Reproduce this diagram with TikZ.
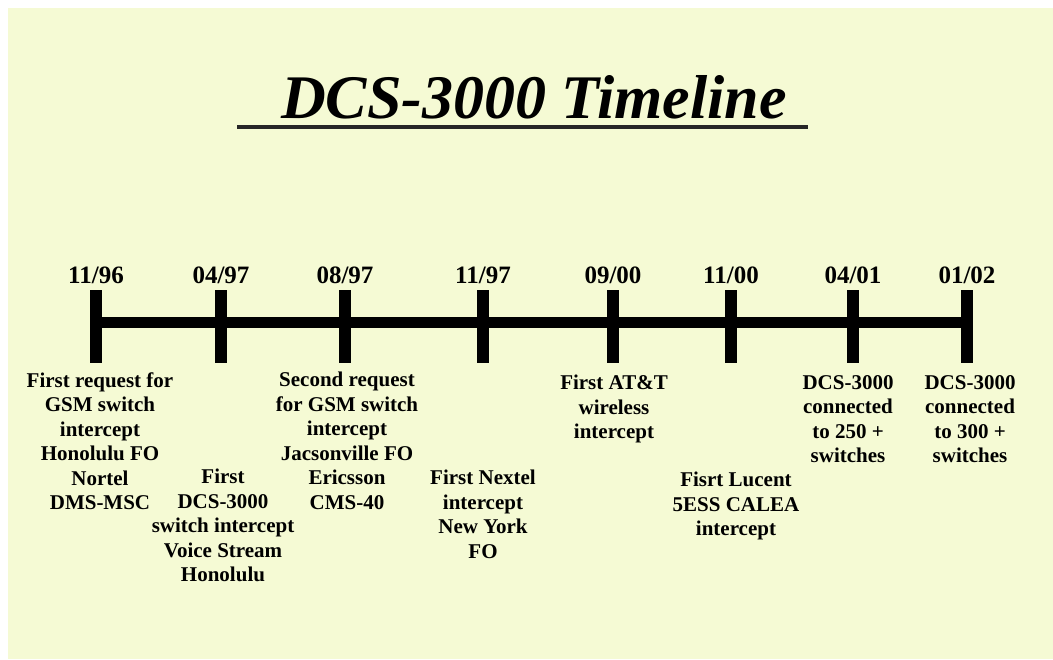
\documentclass[tikz,border=0pt]{standalone}
\usepackage{fontspec}
\setmainfont{Liberation Serif}
\definecolor{paper}{HTML}{F5FAD4}

\begin{document}
\begin{tikzpicture}[x=0.5pt, y=-0.5pt,
  every node/.style={inner sep=0pt},
  date/.style={font=\bfseries\fontsize{12.5}{14}\selectfont},
  note/.style={font=\bfseries\fontsize{10.5}{12.25}\selectfont, align=center, anchor=north},
  tick/.style={line width=6pt},
  bar/.style={line width=5.5pt}]
  \fill[white] (0,0) rectangle (1053,659);
  \fill[paper] (8,8) rectangle (1053,659);

  \node[font=\bfseries\itshape\fontsize{31}{34}\selectfont] (title) at (534,97) {DCS-3000 Timeline};
  \coordinate (ulA) at (237,127);
  \coordinate (ulB) at (808,127);
  \draw[line width=2pt, black!85] (ulA) -- (ulB);

  \foreach \i/\x/\d in {1/96/11\slash 96, 2/221/04\slash 97, 3/345/08\slash 97, 4/483/11\slash 97,
                        5/613/09\slash 00, 6/731/11\slash 00, 7/853/04\slash 01, 8/967/01\slash 02} {
    \coordinate (t\i) at (\x,290);
    \coordinate (b\i) at (\x,363);
    \coordinate (m\i) at (\x,322);
    \node[date] (d\i) at (\x,275) {\d};
    \draw[tick] (t\i) -- (b\i);
  }
  \draw[bar] (m1) -- (m8);

  \node[note] (n1) at (100,372) {First request for\\GSM switch\\intercept\\Honolulu FO\\Nortel\\DMS-MSC};
  \node[note] (n2) at (223,469) {First\\DCS-3000\\switch intercept\\Voice Stream\\Honolulu};
  \node[note] (n3) at (347,372) {Second request\\for GSM switch\\intercept\\Jacsonville FO\\Ericsson\\CMS-40};
  \node[note] (n4) at (483,470) {First Nextel\\intercept\\New York\\FO};
  \node[note] (n5) at (614,375) {First AT\&T\\wireless\\intercept};
  \node[note] (n6) at (736,472) {Fisrt Lucent\\5ESS CALEA\\intercept};
  \node[note] (n7) at (848,375) {DCS-3000\\connected\\to 250 +\\switches};
  \node[note] (n8) at (970,375) {DCS-3000\\connected\\to 300 +\\switches};
\end{tikzpicture}
\end{document}
